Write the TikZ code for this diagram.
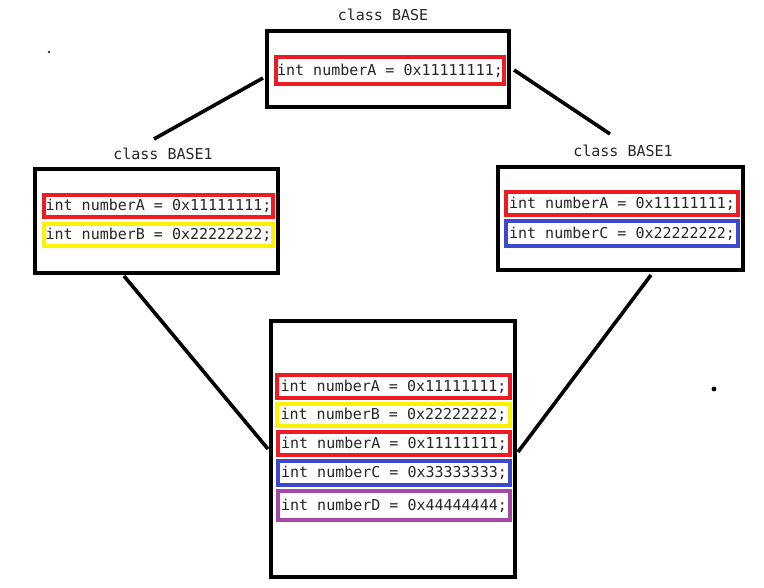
\documentclass[tikz,border=0pt]{standalone}
\usepackage{fontspec}
\setmonofont{DejaVu Sans Mono}
\definecolor{pred}{RGB}{237,28,36}
\definecolor{pyellow}{RGB}{255,242,0}
\definecolor{pblue}{RGB}{63,72,204}
\definecolor{ppurple}{RGB}{163,73,164}
\begin{document}
\begin{tikzpicture}[x=1pt,y=-1pt,
  classbox/.style={draw=black,line width=4.5pt,inner sep=0pt,fill=white},
  fieldbox/.style={draw=#1,line width=4pt,inner sep=0pt,minimum height=22pt,font=\ttfamily\fontsize{15}{16}\selectfont,text=black!85},
  titletext/.style={font=\ttfamily\fontsize{15}{16}\selectfont,text=black!85,inner sep=0pt},
  conn/.style={line width=3.6pt,black}]
\useasboundingbox (0,0) rectangle (764,588);
% top class
\node[titletext] (tTop) at (383,15) {class BASE};
\node[classbox,minimum width=242pt,minimum height=76pt] (top) at (388,69) {};
\node[fieldbox=pred,minimum width=228pt,minimum height=27pt] (topA) at (390,70.5) {int numberA = 0x11111111;};
% left class
\node[titletext] (tLeft) at (163,154) {class BASE1};
\node[classbox,minimum width=243pt,minimum height=104pt] (left) at (156.5,221) {};
\node[fieldbox=pred,minimum width=229pt] (leftA) at (158.5,206) {int numberA = 0x11111111;};
\node[fieldbox=pyellow,minimum width=229pt] (leftB) at (158.5,235) {int numberB = 0x22222222;};
% right class
\node[titletext] (tRight) at (623,151) {class BASE1};
\node[classbox,minimum width=245pt,minimum height=103pt] (right) at (620.5,218.5) {};
\node[fieldbox=pred,minimum width=232pt,minimum height=23pt] (rightA) at (622,203.5) {int numberA = 0x11111111;};
\node[fieldbox=pblue,minimum width=232pt,minimum height=25pt] (rightC) at (622,233.5) {int numberC = 0x22222222;};
% bottom class
\node[classbox,minimum width=244pt,minimum height=256pt] (bottom) at (393,449) {};
\node[fieldbox=pred,minimum width=233pt,minimum height=23pt] (bA1) at (393.5,386.5) {int numberA = 0x11111111;};
\node[fieldbox=pyellow,minimum width=233pt] (bB) at (393.5,415) {int numberB = 0x22222222;};
\node[fieldbox=pred,minimum width=232pt,minimum height=23pt] (bA2) at (394,443.5) {int numberA = 0x11111111;};
\node[fieldbox=pblue,minimum width=232pt,minimum height=24pt] (bC) at (394,473) {int numberC = 0x33333333;};
\node[fieldbox=ppurple,minimum width=232pt,minimum height=29pt] (bD) at (394,505.5) {int numberD = 0x44444444;};
% connector ends
\coordinate (c1a) at (263,78);
\coordinate (c1b) at (154,139);
\coordinate (c2a) at (514,70);
\coordinate (c2b) at (610,134);
\coordinate (c3a) at (124,276);
\coordinate (c3b) at (268,449);
\coordinate (c4a) at (651,275);
\coordinate (c4b) at (518,452);
\draw[conn] (c1a) -- (c1b);
\draw[conn] (c2a) -- (c2b);
\draw[conn] (c3a) -- (c3b);
\draw[conn] (c4a) -- (c4b);
% stray dots
\fill[black!80] (49,52) circle (1.3pt);
\fill[black] (714,389) circle (2.4pt);
\end{tikzpicture}
\end{document}
